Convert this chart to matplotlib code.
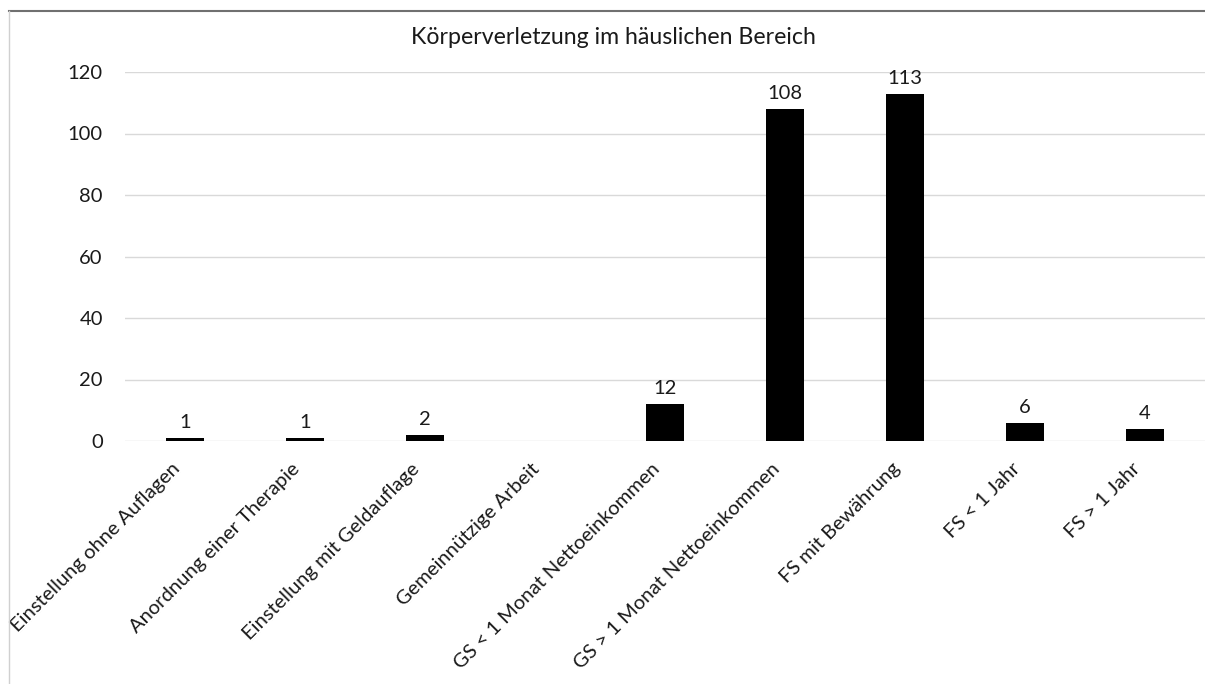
import matplotlib
matplotlib.use("Agg")
import matplotlib.pyplot as plt
import numpy as np
from matplotlib.lines import Line2D
from matplotlib.transforms import offset_copy

categories = [
    "Einstellung ohne Auflagen",
    "Anordnung einer Therapie",
    "Einstellung mit Geldauflage",
    "Gemeinnützige Arbeit",
    "GS < 1 Monat Nettoeinkommen",
    "GS > 1 Monat Nettoeinkommen",
    "FS mit Bewährung",
    "FS < 1 Jahr",
    "FS > 1 Jahr",
]
values = [1, 1, 2, np.nan, 12, 108, 113, 6, 4]
yticks = [0, 20, 40, 60, 80, 100, 120]
title = "Körperverletzung im häuslichen Bereich"

plt.rcParams['font.family'] = ['Lato', 'DejaVu Sans']
TXT = "#1a1a1a"

W, H = 1205, 684
fig = plt.figure(figsize=(W / 100, H / 100), dpi=100)
ax = fig.add_axes([125 / W, 1 - 441 / H, (1205 - 125) / W, (441 - 72) / H])

x = np.arange(len(categories))
vals = np.array(values, dtype=float)
ax.bar(x, np.nan_to_num(vals), width=0.31, color="black", zorder=3)

for xi, v in zip(x, vals):
    if not np.isnan(v):
        ax.annotate(f"{int(v)}", (xi, v), xytext=(0, 5), textcoords="offset points",
                    ha="center", va="bottom", fontsize=14.5, color=TXT)

ax.set_xlim(-0.5, len(categories) - 0.5)
ax.set_ylim(0, 120)
ax.set_yticks(yticks)
ax.set_yticklabels([str(t) for t in yticks], fontsize=14.5, color=TXT)
ax.tick_params(axis="y", length=0, pad=16)
ax.tick_params(axis="x", length=0)
ax.yaxis.grid(True, color="#d9d9d9", linewidth=1, zorder=0)
for s in ax.spines.values():
    s.set_visible(False)

ax.set_xticks(x)
ax.set_xticklabels([])
for xi, lab in zip(x, categories):
    t = offset_copy(ax.get_xaxis_transform(), fig=fig, x=-8, y=-25, units="dots")
    ax.text(xi, 0, lab, transform=t, rotation=45, rotation_mode="anchor",
            ha="right", va="center", fontsize=14.5, color=TXT)

fig.text(613 / W, 1 - 38 / H, title, ha="center", va="center", fontsize=16.7, color=TXT)

fig.add_artist(Line2D([9 / W, 1], [1 - 11 / H, 1 - 11 / H], transform=fig.transFigure,
                      color="#707070", linewidth=1.5))
fig.add_artist(Line2D([9 / W, 9 / W], [0, 1 - 11 / H], transform=fig.transFigure,
                      color="#d0d0d0", linewidth=1))

fig.savefig("out.png", dpi=100)
